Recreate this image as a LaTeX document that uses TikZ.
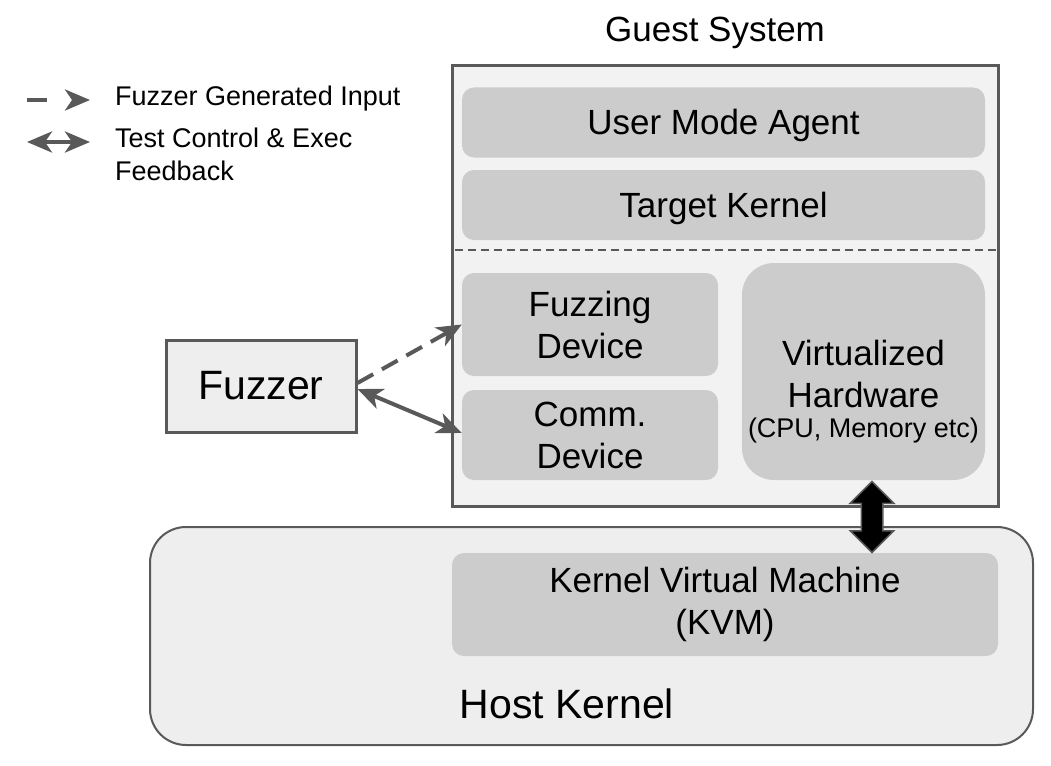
\documentclass[tikz,border=0pt]{standalone}
\usepackage{fontspec}
\setmainfont{Liberation Sans}
\usepackage{tikz}
\usepackage{xcolor}
\usetikzlibrary{positioning, arrows.meta, shapes.arrows}
\definecolor{vmgray}{RGB}{204, 204, 204}
\definecolor{vmlight}{RGB}{242, 242, 242}
\definecolor{vmhost}{RGB}{238, 238, 238}
\definecolor{vmline}{RGB}{89, 89, 89}
\tikzset{
    vmbox/.style={rectangle, rounded corners=12pt, fill=vmgray, align=center, inner sep=0pt, font=\fontsize{35}{42}\selectfont},
    oneline/.style={text height=31.5pt, text depth=7.4pt},
    guestbox/.style={rectangle, draw=vmline, line width=3pt, fill=vmlight},
    hostbox/.style={rectangle, rounded corners=36pt, draw=vmline, line width=2pt, fill=vmhost},
    fuzzbox/.style={rectangle, draw=vmline, line width=3pt, fill=vmhost, font=\fontsize{41}{48}\selectfont},
    bigtext/.style={font=\fontsize{41}{48}\selectfont},
    titletext/.style={font=\fontsize{35}{42}\selectfont},
    legendtext/.style={anchor=west, align=left, inner sep=0pt, font=\fontsize{27}{33}\selectfont},
    inputarrow/.style={vmline, line width=4pt, dash pattern=on 18pt off 10pt, -{Stealth[length=25pt, width=21pt, inset=7pt]}},
    ctrlarrow/.style={vmline, line width=4pt, {Stealth[length=25pt, width=21pt, inset=7pt]}-{Stealth[length=25pt, width=21pt, inset=7pt]}},
    sepline/.style={vmline, line width=1.5pt, dash pattern=on 8pt off 5pt},
    hwlink/.style={double arrow, rotate=90, fill=black, draw=vmline, line width=1.5pt, inner sep=10pt, double arrow head extend=11pt, minimum height=71pt}
}

\begin{document}
\begin{tikzpicture}[x=1pt, y=-1pt]
    \useasboundingbox (0,0) rectangle (1051,765);
    % legend
    \coordinate (inA) at (27,100);
    \coordinate (inB) at (90,100);
    \coordinate (ctA) at (27,142);
    \coordinate (ctB) at (90,142);
    \draw[inputarrow, dash pattern=on 20pt off 40pt] (inA) -- (inB);
    \draw[ctrlarrow] (ctA) -- (ctB);
    \node[legendtext] (inlabel) at (115,99) {Fuzzer Generated Input};
    \node[legendtext] (ctlabel) at (115,154) {Test Control \& Exec\\Feedback};

    % host side
    \node[hostbox, minimum width=883pt, minimum height=218pt] (host) at (591.5,636) {};
    \node[vmbox, minimum width=546pt, minimum height=103pt] (kvm) at (725,604.5) {Kernel Virtual Machine\\(KVM)};
    \node[bigtext, anchor=base] (hostlabel) at (567,718) {Host Kernel};

    % guest side
    \node[guestbox, minimum width=546pt, minimum height=440pt] (guest) at (725,286) {};
    \node[titletext, anchor=base] (guestlabel) at (715,42) {Guest System};
    \node[vmbox, oneline, minimum width=523pt, minimum height=70pt] (agent) at (723.5,122.5) {User Mode Agent};
    \node[vmbox, oneline, minimum width=523pt, minimum height=70pt] (tkernel) at (723.5,205) {Target Kernel};
    \coordinate (sepL) at (455,250);
    \coordinate (sepR) at (996,250);
    \draw[sepline] (sepL) -- (sepR);
    \node[vmbox, minimum width=256pt, minimum height=103pt] (fuzzdev) at (590,324.5) {Fuzzing\\Device};
    \node[vmbox, minimum width=256pt, minimum height=90pt] (commdev) at (590,435) {Comm.\\Device};
    \node[vmbox, rounded corners=32pt, minimum width=243pt, minimum height=217pt] (vhw) at (863.5,371.5) {};
    \node[align=center, inner sep=0pt, font=\fontsize{35}{42}\selectfont, yshift=-20pt] (vhwtext) at (vhw.center)
        {Virtualized\\Hardware\\[-12pt]{\fontsize{27}{30}\selectfont (CPU, Memory etc)}};

    % fuzzer
    \node[fuzzbox, minimum width=190pt, minimum height=92pt] (fuzzer) at (261,386) {Fuzzer};
    \draw[inputarrow] ([yshift=3pt]fuzzer.east) -- (fuzzdev.west);
    \draw[ctrlarrow] ([yshift=-3pt]fuzzer.east) -- ([yshift=2pt]commdev.west);

    % guest <-> kvm
    \node[hwlink] (hwlink) at (872,517) {};
\end{tikzpicture}
\end{document}
